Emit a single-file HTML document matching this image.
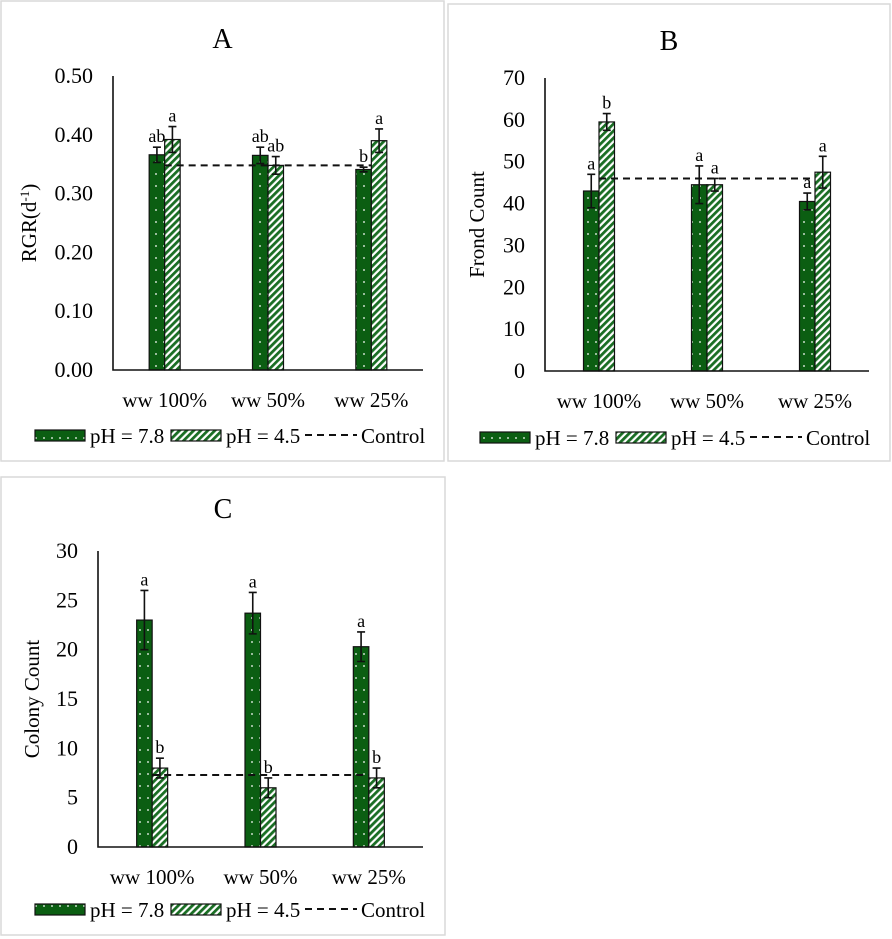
<!DOCTYPE html>
<html><head><meta charset="utf-8"><style>
html,body{margin:0;padding:0;background:#fff;}
svg{display:block;font-family:"Liberation Serif",serif;}
</style></head><body>
<svg id="fig" width="892" height="939" viewBox="0 0 892 939">
<defs>
<pattern id="dots" width="8" height="12" patternUnits="userSpaceOnUse">
<rect width="8" height="12" fill="#0b5e12"/><circle cx="4" cy="6" r="0.9" fill="#fff"/>
</pattern>
<pattern id="hatch" width="5" height="5" patternUnits="userSpaceOnUse" patternTransform="rotate(45)">
<rect width="5" height="5" fill="#fff"/><rect width="2.8" height="5" fill="#1a6e24"/>
</pattern>
</defs>
</svg>
<script>
const categories = ["ww 100%", "ww 50%", "ww 25%"];
const seriesNames = ["pH = 7.8", "pH = 4.5"];
// Panel A
const aGreen = [0.366, 0.365, 0.341];
const aHatch = [0.392, 0.348, 0.390];
const aGreenErr = [0.013, 0.014, 0.004];
const aHatchErr = [0.022, 0.015, 0.020];
const aGreenLet = ["ab", "ab", "b"];
const aHatchLet = ["a", "ab", "a"];
const aControl = 0.348;
const aTicks = ["0.00","0.10","0.20","0.30","0.40","0.50"];
// Panel B
const bGreen = [43, 44.5, 40.5];
const bHatch = [59.5, 44.5, 47.5];
const bGreenErr = [4, 4.5, 2];
const bHatchErr = [2, 1.5, 3.8];
const bGreenLet = ["a", "a", "a"];
const bHatchLet = ["b", "a", "a"];
const bControl = 46;
const bTicks = ["0","10","20","30","40","50","60","70"];
// Panel C
const cGreen = [23, 23.7, 20.3];
const cHatch = [8, 6, 7];
const cGreenErr = [3, 2.1, 1.5];
const cHatchErr = [1, 1, 1];
const cGreenLet = ["a", "a", "a"];
const cHatchLet = ["b", "b", "b"];
const cControl = 7.3;
const cTicks = ["0","5","10","15","20","25","30"];

const NS = "http://www.w3.org/2000/svg";
const svg = document.getElementById("fig");
function mk(tag, attrs, parent, text){
  const e = document.createElementNS(NS, tag);
  for (const k in attrs) e.setAttribute(k, attrs[k]);
  if (text !== undefined) e.textContent = text;
  parent.appendChild(e);
  return e;
}
function panel(cfg){
  const g = mk("g", {}, svg);
  
  
  const fr = mk("rect", {x:cfg.fx, y:cfg.fy, width:cfg.fw, height:cfg.fh, fill:"#fff", stroke:"#d9d9d9", "stroke-width":1.5}, g);
  
  
  const t = mk("text", {x:(cfg.fx+cfg.fw/2), y:cfg.titleY, "text-anchor":"middle", "font-size":28}, g, cfg.id);
  
  
  const L = cfg.left, R = cfg.right, T = cfg.top, B = cfg.bottom;
  const max = parseFloat(cfg.ticks[cfg.ticks.length-1]);
  const y = v => B - v / max * (B - T);
  const gw = (R - L) / categories.length;
  const cx = i => L + (i + 0.5) * gw;
  const bw = 15.5;
  cfg.ticks.forEach(tl => {
    const tt = mk("text", {x:L-20, y:y(parseFloat(tl))+7, "text-anchor":"end", "font-size":22}, g, tl);
    
    
  });
  const yl = mk("text", {x:0, y:0, transform:`translate(${cfg.ylx},${(T+B)/2}) rotate(-90)`, "text-anchor":"middle", "font-size":21}, g);
  
  
  if (cfg.id === "A") {
    yl.appendChild(document.createTextNode("RGR(d"));
    mk("tspan", {"baseline-shift":"super", "font-size":13}, yl, "-1");
    yl.appendChild(document.createTextNode(")"));
  } else yl.textContent = cfg.ylabel;
  const series = [[cfg.green, cfg.gErr, cfg.gLet, "url(#dots)", -1], [cfg.hatch, cfg.hErr, cfg.hLet, "url(#hatch)", 0]];
  series.forEach((s, si) => {
    s[0].forEach((v, i) => {
      const x0 = cx(i) + s[4]*bw;
      const r = mk("rect", {x:x0, y:y(v), width:bw, height:B-y(v), fill:s[3], stroke:"#111", "stroke-width":1.2}, g);
      
      
      const m = x0 + bw/2, e = s[1][i];
      const eb = mk("path", {d:`M${m},${y(v+e)}V${y(v-e)}M${m-4},${y(v+e)}H${m+4}M${m-4},${y(v-e)}H${m+4}`, stroke:"#111", "stroke-width":1.6, fill:"none"}, g);
      
      
      const lt = mk("text", {x:m, y:y(v+e)-5, "text-anchor":"middle", "font-size":18}, g, s[2][i]);
      
      
    });
  });
  const cl = mk("line", {x1:cx(0), x2:cx(categories.length-1), y1:y(cfg.control), y2:y(cfg.control), stroke:"#111", "stroke-width":2, "stroke-dasharray":"7,5"}, g);
  
  
  const ax = mk("path", {d:`M${L},${T}V${B}H${R}`, stroke:"#111", "stroke-width":1.6, fill:"none"}, g);
  
  
  categories.forEach((c, i) => {
    const ct = mk("text", {x:cx(i), y:B+37, "text-anchor":"middle", "font-size":21}, g, c);
    
    
  });
  const ly = cfg.legY, lx = cfg.legX;
  const l1 = mk("rect", {x:lx, y:ly-13, width:50, height:11, fill:"url(#dots)", stroke:"#111", "stroke-width":1.2}, g);
  
  
  const lt1 = mk("text", {x:lx+55, y:ly, "font-size":21}, g, seriesNames[0]);
  
  
  const l2 = mk("rect", {x:lx+136, y:ly-13, width:50, height:11, fill:"url(#hatch)", stroke:"#111", "stroke-width":1.2}, g);
  
  
  const lt2 = mk("text", {x:lx+191, y:ly, "font-size":21}, g, seriesNames[1]);
  
  
  const l3 = mk("line", {x1:lx+270, x2:lx+322, y1:ly-8, y2:ly-8, stroke:"#111", "stroke-width":2, "stroke-dasharray":"7,5"}, g);
  
  
  const lt3 = mk("text", {x:lx+326, y:ly, "font-size":21}, g, "Control");
  
  
}
panel({id:"A", fx:1, fy:1, fw:443, fh:460, titleY:48, left:113, right:423, top:76, bottom:370, ticks:aTicks, ylx:36,
  green:aGreen, hatch:aHatch, gErr:aGreenErr, hErr:aHatchErr, gLet:aGreenLet, hLet:aHatchLet, control:aControl, legX:35, legY:443});
panel({id:"B", fx:448, fy:4, fw:442, fh:457, titleY:50, left:545, right:869, top:78, bottom:371, ticks:bTicks, ylx:484, ylabel:"Frond Count",
  green:bGreen, hatch:bHatch, gErr:bGreenErr, hErr:bHatchErr, gLet:bGreenLet, hLet:bHatchLet, control:bControl, legX:480, legY:445});
panel({id:"C", fx:1, fy:477, fw:444, fh:458, titleY:518, left:98, right:423, top:551, bottom:847, ticks:cTicks, ylx:39, ylabel:"Colony Count",
  green:cGreen, hatch:cHatch, gErr:cGreenErr, hErr:cHatchErr, gLet:cGreenLet, hLet:cHatchLet, control:cControl, legX:35, legY:917});
</script>
</body></html>
